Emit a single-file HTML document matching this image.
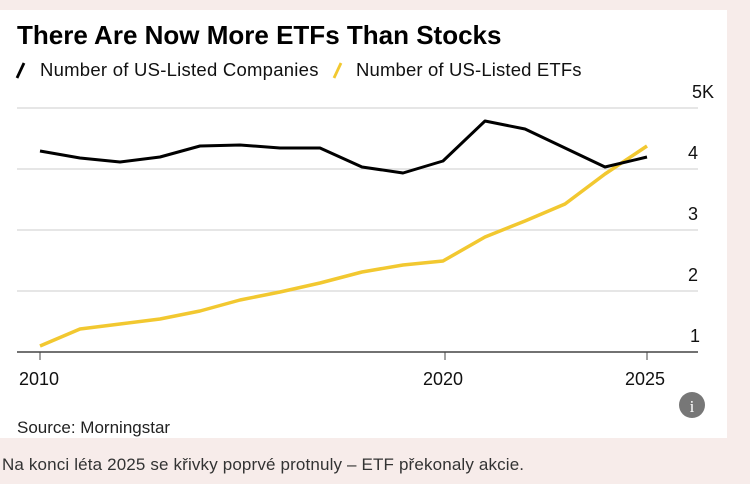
<!DOCTYPE html>
<html><head><meta charset="utf-8"><style>
body{margin:0;width:750px;height:484px;background:#f7ecea;font-family:"Liberation Sans",sans-serif;position:relative;overflow:hidden}
.panel{position:absolute;left:0;top:10px;width:727px;height:428px;background:#fff}
.t{position:absolute;white-space:nowrap}
</style></head><body>
<div class="panel"></div>
<div class="t" style="left:17px;top:20px;font-size:26px;font-weight:bold;letter-spacing:0px;color:#000">There Are Now More ETFs Than Stocks</div>
<svg style="position:absolute;left:0;top:0" width="750" height="484">
<line x1="17" y1="78" x2="24" y2="63" stroke="#000" stroke-width="2.8"/>
<line x1="334" y1="78" x2="341" y2="63" stroke="#f2c830" stroke-width="2.8"/>
<g stroke="#ddd" stroke-width="1.5">
<line x1="17" y1="108" x2="698" y2="108"/><line x1="17" y1="169" x2="698" y2="169"/>
<line x1="17" y1="230" x2="698" y2="230"/><line x1="17" y1="291" x2="698" y2="291"/></g>
<line x1="17" y1="352" x2="698" y2="352" stroke="#444" stroke-width="1.5"/>
<g stroke="#444" stroke-width="1"><line x1="40" y1="352" x2="40" y2="360"/><line x1="445" y1="352" x2="445" y2="360"/><line x1="647" y1="352" x2="647" y2="360"/></g>
<polyline fill="none" stroke="#f2c830" stroke-width="3.5" stroke-linejoin="round" points="40,346 80,329 120,324 160,319 200,311 240,300 280,292 320,283 362,272 403,265 443,261 485,237 525,221 565,204 605,174 647,146"/>
<polyline fill="none" stroke="#000" stroke-width="3" stroke-linejoin="round" points="40,151 80,158 120,162 160,157 200,146 240,145 280,148 320,148 362,167 403,173 443,161 485,121 525,129 565,148 605,167 647,157"/>
<circle cx="692" cy="405" r="13" fill="#777"/>
<text x="692" y="412" fill="#fff" font-family="Liberation Serif" font-size="17" text-anchor="middle">i</text>
</svg>
<div class="t" style="left:40px;top:59px;font-size:18.5px;letter-spacing:0.25px;color:#111">Number of US-Listed Companies</div>
<div class="t" style="left:356px;top:59px;font-size:18.5px;letter-spacing:0.15px;color:#111">Number of US-Listed ETFs</div>
<div class="t" style="right:36px;top:82px;font-size:18px;color:#111">5K</div>
<div class="t" style="left:688px;top:143px;font-size:18px;color:#111">4</div>
<div class="t" style="left:688px;top:204px;font-size:18px;color:#111">3</div>
<div class="t" style="left:688px;top:265px;font-size:18px;color:#111">2</div>
<div class="t" style="left:690px;top:326px;font-size:18px;color:#111">1</div>
<div class="t" style="left:19px;top:369px;font-size:18px;color:#111">2010</div>
<div class="t" style="left:423px;top:369px;font-size:18px;color:#111">2020</div>
<div class="t" style="left:625px;top:369px;font-size:18px;color:#111">2025</div>
<div class="t" style="left:17px;top:418px;font-size:17px;color:#222">Source: Morningstar</div>
<div class="t" style="left:2px;top:455px;font-size:17px;letter-spacing:0.15px;color:#333">Na konci léta 2025 se křivky poprvé protnuly – ETF překonaly akcie.</div>
</body></html>
